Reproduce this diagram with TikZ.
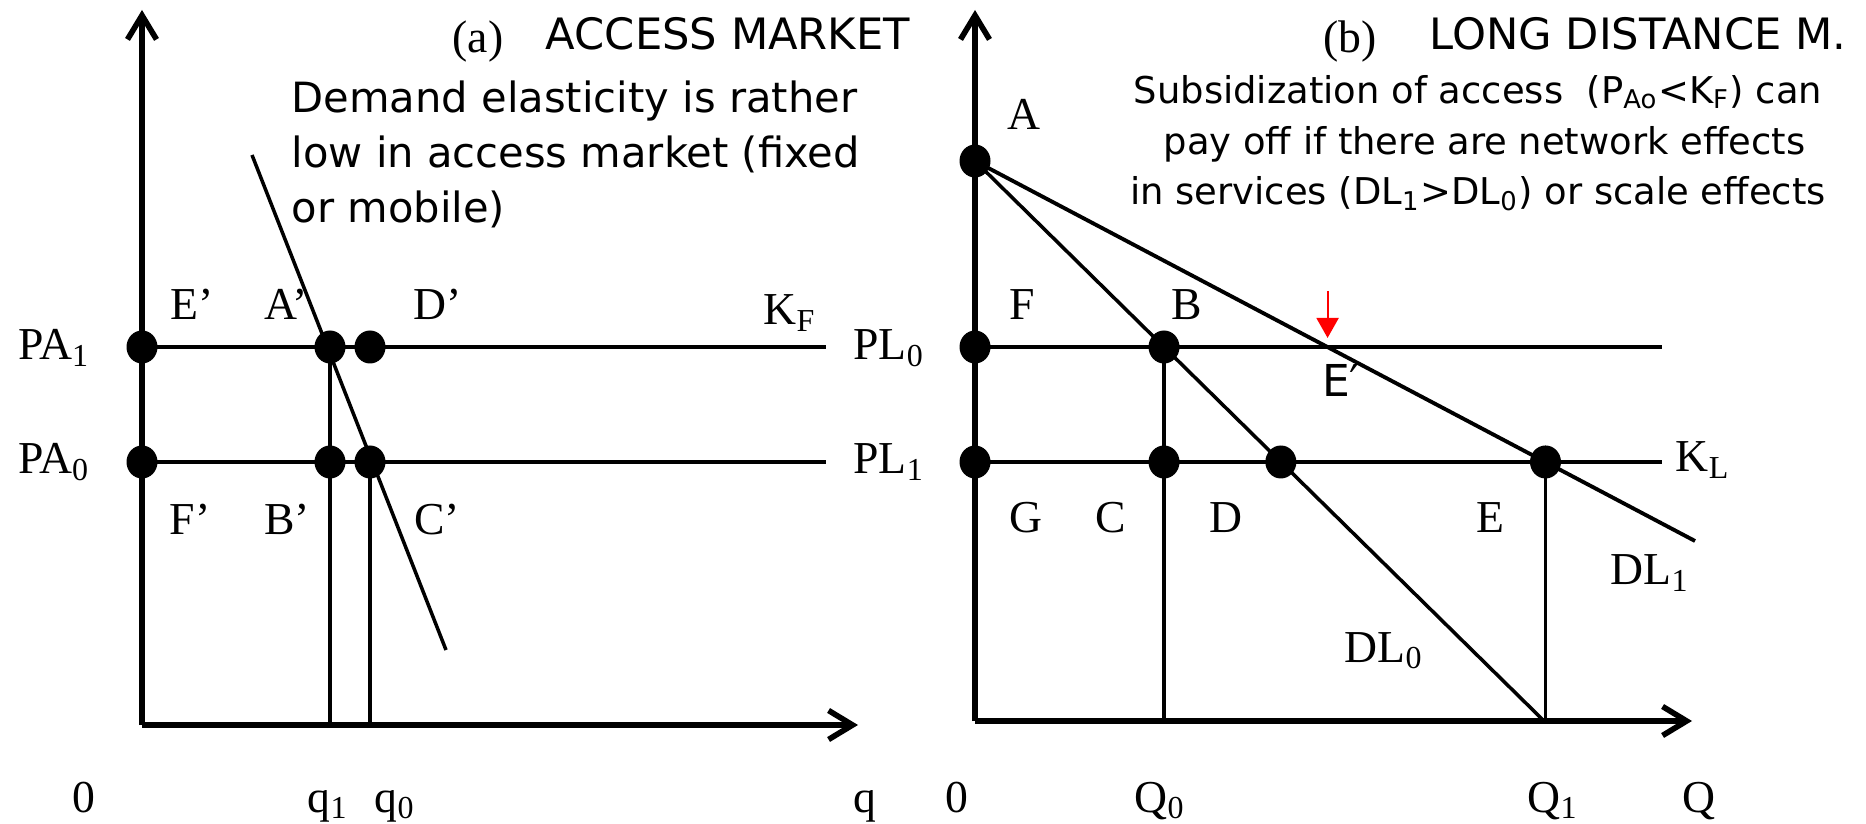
\documentclass[tikz,border=0pt]{standalone}
\usepackage{fontspec}
\setmainfont{Liberation Serif}
\newfontfamily\notefont{DejaVu Sans}
\usetikzlibrary{arrows.meta,shapes.geometric}
\newcommand\lo[1]{\textsubscript{#1}}

\begin{document}
\begin{tikzpicture}[x=1cm,y=1cm,
  axis/.style={line width=1.6pt,-{Straight Barb[length=2.4mm,width=2.9mm]}},
  price/.style={line width=1.2pt},
  curve/.style={line width=1pt},
  dot/.style={ellipse,fill=black,inner sep=0pt,minimum width=3.1mm,minimum height=3.3mm},
  lbl/.style={anchor=base,inner sep=0pt,font=\fontsize{13}{15}\selectfont},
  head/.style={anchor=base,inner sep=0pt,font=\notefont\fontsize{12.3}{15}\selectfont},
  marker/.style={draw=red,line width=.6pt,-{Triangle[length=2mm,width=2.2mm]}}]
  \useasboundingbox (0,0) rectangle (18.66,8.23);

  % (a) access market
  \coordinate (OL) at (1.42,.98);
  \coordinate (yL) at (1.42,8.13);
  \coordinate (xL) at (8.58,.98);
  \coordinate (a1) at (8.26,4.76);
  \coordinate (a0) at (8.26,3.61);
  \coordinate (dTop) at (2.52,6.68);
  \coordinate (dBot) at (4.46,1.73);
  \node[dot] (dEp) at (1.42,4.76) {};
  \node[dot] (dAp) at (3.30,4.76) {};
  \node[dot] (dDp) at (3.70,4.76) {};
  \node[dot] (dFp) at (1.42,3.61) {};
  \node[dot] (dBp) at (3.30,3.61) {};
  \node[dot] (dCp) at (3.70,3.61) {};
  \draw[price] (dEp.center) -- (a1);
  \draw[price] (dFp.center) -- (a0);
  \draw[curve] (dAp.center) -- (dAp |- OL);
  \draw[curve] (dCp.center) -- (dCp |- OL);
  \draw[curve] (dTop) -- (dBot);
  \draw[axis] (OL) -- (yL);
  \draw[axis] (OL) -- (xL);

  \node[lbl] (lEp) at (1.92,5.03) {E’};
  \node[lbl] (lAp) at (2.86,5.03) {A’};
  \node[lbl] (lDp) at (4.38,5.03) {D’};
  \node[lbl] (lKF) at (7.90,4.98) {K\lo{F}};
  \node[lbl] (lPA1) at (.54,4.63) {PA\lo{1}};
  \node[lbl] (lPA0) at (.54,3.49) {PA\lo{0}};
  \node[lbl] (lFp) at (1.90,2.88) {F’};
  \node[lbl] (lBp) at (2.87,2.88) {B’};
  \node[lbl] (lCp) at (4.37,2.88) {C’};
  \node[lbl] (lOL) at (.84,.11) {0};
  \node[lbl] (lq1) at (3.28,.11) {q\lo{1}};
  \node[lbl] (lq0) at (3.95,.11) {q\lo{0}};
  \node[lbl] (lq) at (8.65,.11) {q};
  \node[lbl] (lPa) at (4.78,7.70) {(a)};
  \node[head] (hA) at (7.28,7.73) {ACCESS MARKET};
  \node[anchor=base west,align=left,inner sep=0pt,font=\notefont\fontsize{11.85}{15.7}\selectfont]
    (noteA) at (2.91,6.00) {Demand elasticity is rather\\low in access market (fixed\\or mobile)};

  % (b) long distance market
  \coordinate (OR) at (9.75,1.02);
  \coordinate (yR) at (9.75,8.13);
  \coordinate (xR) at (16.92,1.02);
  \coordinate (pA) at (9.75,6.62);
  \coordinate (pF) at (9.75,4.76);
  \coordinate (pG) at (9.75,3.61);
  \coordinate (l0) at (16.62,4.76);
  \coordinate (l1) at (16.62,3.61);
  \coordinate (dl0) at (15.44,1.02);
  \coordinate (dl1) at (16.95,2.82);
  \coordinate (Ep) at (intersection of pA--dl1 and pF--l0);
  \node[dot] (dA) at (pA) {};
  \node[dot] (dF) at (pF) {};
  \node[dot] (dG) at (pG) {};
  \node[dot] (dB) at (intersection of pA--dl0 and pF--l0) {};
  \node[dot] (dC) at (dB |- pG) {};
  \node[dot] (dD) at (intersection of pA--dl0 and pG--l1) {};
  \node[dot] (dE) at (intersection of pA--dl1 and pG--l1) {};
  \draw[price] (pF) -- (l0);
  \draw[price] (pG) -- (l1);
  \draw[curve] (pA) -- (dl0);
  \draw[curve,line width=1.1pt] (pA) -- (dl1);
  \draw[curve] (dB.center) -- (dB |- OR);
  \draw[curve] (dE.center) -- (dE |- OR);
  \draw[axis] (OR) -- (yR);
  \draw[axis] (OR) -- (xR);
  \draw[marker] ([yshift=5.6mm]Ep) -- ([yshift=.9mm]Ep);

  \node[lbl] (lA) at (10.24,6.93) {A};
  \node[lbl] (lF) at (10.22,5.03) {F};
  \node[lbl] (lB) at (11.87,5.03) {B};
  \node[anchor=base,inner sep=0pt,font=\notefont\fontsize{12.5}{15}\selectfont] (lEq) at (13.41,4.26) {E′};
  \node[lbl] (lPL0) at (8.89,4.63) {PL\lo{0}};
  \node[lbl] (lPL1) at (8.89,3.49) {PL\lo{1}};
  \node[lbl] (lKL) at (17.03,3.51) {K\lo{L}};
  \node[lbl] (lG) at (10.26,2.90) {G};
  \node[lbl] (lC) at (11.11,2.90) {C};
  \node[lbl] (lD) at (12.26,2.90) {D};
  \node[lbl] (lE) at (14.90,2.90) {E};
  \node[lbl] (lDL1) at (16.50,2.38) {DL\lo{1}};
  \node[lbl] (lDL0) at (13.84,1.61) {DL\lo{0}};
  \node[lbl] (lOR) at (9.57,.11) {0};
  \node[lbl] (lQ0) at (11.60,.11) {Q\lo{0}};
  \node[lbl] (lQ1) at (15.53,.11) {Q\lo{1}};
  \node[lbl] (lQ) at (16.99,.11) {Q};
  \node[lbl] (lPb) at (13.50,7.70) {(b)};
  \node[head] (hB) at (16.38,7.73) {LONG DISTANCE M.};
  \node[anchor=base,align=center,inner sep=0pt,font=\notefont\fontsize{10.5}{14.5}\selectfont]
    (noteB) at (14.78,6.18) {Subsidization of access\ \ (P\lo{Ao}<K\lo{F}) can\\
    \hspace*{.35em}pay off if there are network effects\\
    in services (DL\lo{1}>DL\lo{0}) or scale effects};
\end{tikzpicture}
\end{document}
